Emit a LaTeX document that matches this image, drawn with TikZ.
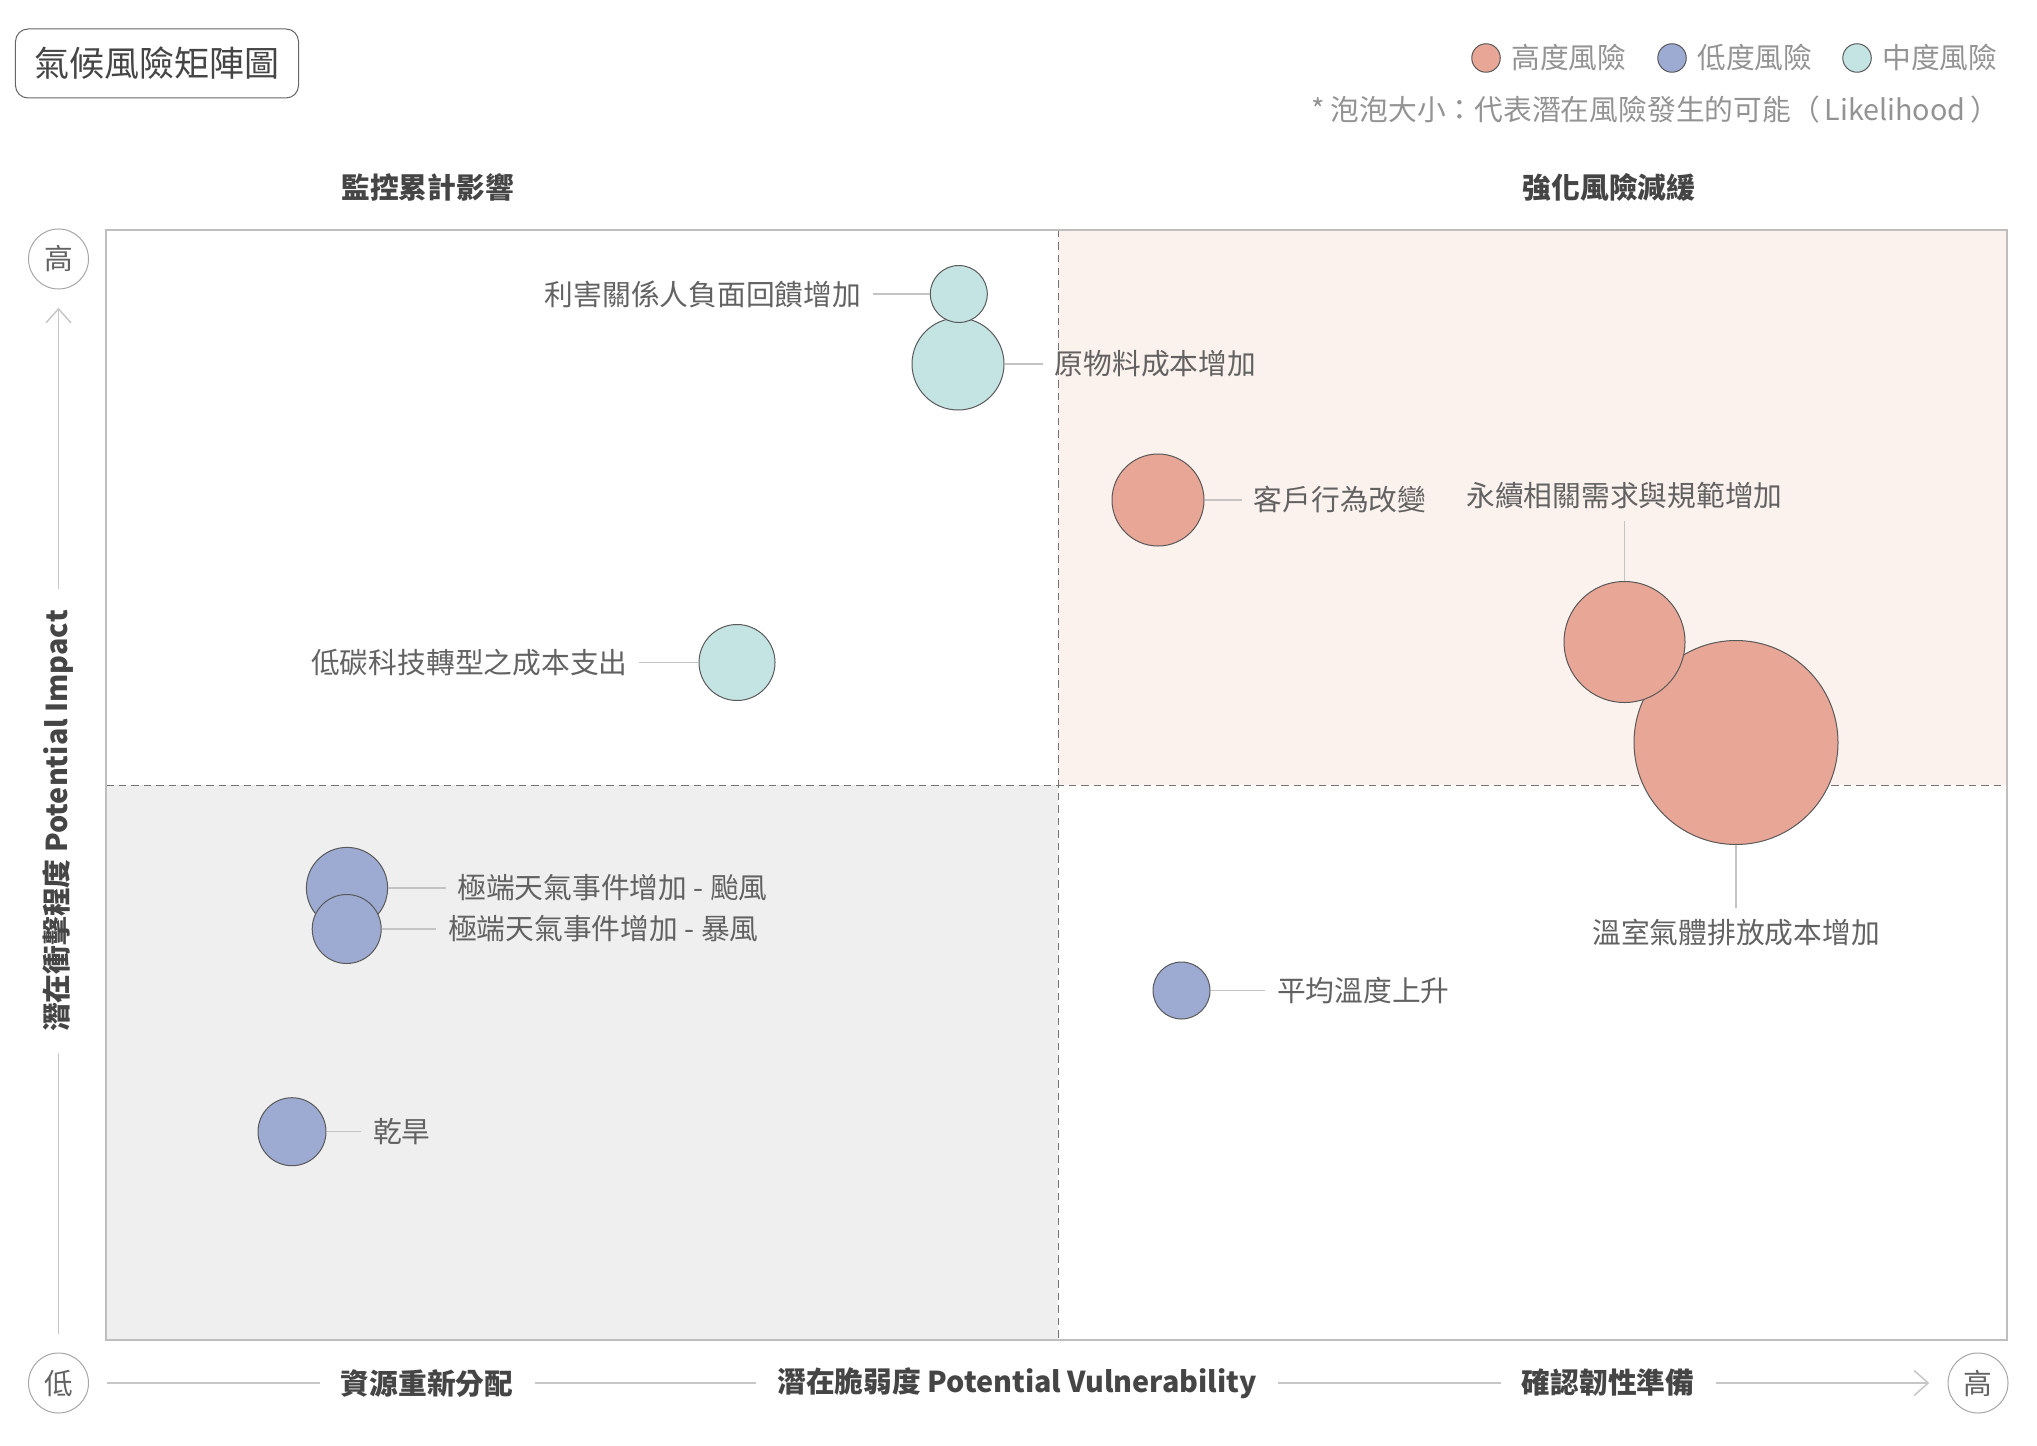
\documentclass[tikz,border=0pt]{standalone}
\usepackage{fontspec}
\setmainfont{Noto Sans CJK TC}
\usepackage{tikz}
\usetikzlibrary{arrows.meta}
\usetikzlibrary{positioning}

\definecolor{hirisk}{HTML}{E8A696}
\definecolor{lorisk}{HTML}{9DAAD2}
\definecolor{midrisk}{HTML}{C3E4E3}
\definecolor{pinkbg}{HTML}{FBF2EE}
\definecolor{graybg}{HTML}{EFEFEF}
\definecolor{labtxt}{HTML}{626262}
\definecolor{headtxt}{HTML}{454545}
\definecolor{lighttxt}{HTML}{939393}
\definecolor{linegray}{HTML}{C4C4C4}
\definecolor{framegray}{HTML}{BEBEBE}

\begin{document}
\begin{tikzpicture}[x=0.4pt,y=-0.4pt,>={Straight Barb[length=5.6pt,width=10pt]},
  every node/.style={font=\fontsize{11.5}{13}\selectfont,text=labtxt},
  bub/.style={draw=black!65,line width=0.4pt,circle,inner sep=0pt},
  hi/.style={bub,fill=hirisk},
  lo/.style={bub,fill=lorisk},
  mid/.style={bub,fill=midrisk},
  lab/.style={inner sep=4.5pt},
  conn/.style={linegray,line width=0.6pt},
  axcirc/.style={draw=black!35,line width=0.4pt,circle,minimum size=24pt,inner sep=0pt,outer sep=7.5pt},
  axlab/.style={font=\fontsize{11.5}{13}\selectfont\bfseries,text=headtxt,inner sep=1pt,outer sep=7.5pt},
  axline/.style={black!22,line width=0.6pt},
  head/.style={font=\fontsize{11.5}{13}\selectfont\bfseries,text=headtxt},
  key/.style={text=lighttxt,inner sep=1pt}]
\useasboundingbox (0,0) rectangle (2037,1445);

% quadrants
\fill[pinkbg] (1058,230) rectangle (2007,785);
\fill[graybg] (106,785) rectangle (1058,1340);
\draw[black!55,densely dashed,line width=0.4pt] (1058,230) -- (1058,1340);
\draw[black!55,densely dashed,line width=0.4pt] (106,785) -- (2007,785);
\draw[framegray,line width=0.8pt] (106,230) rectangle (2007,1340);

% title and legend
\node[draw=black!60,rounded corners=5pt,minimum width=113.2pt,minimum height=27.6pt,font=\fontsize{14}{16}\selectfont,text=headtxt] (title) at (157,63.5) {氣候風險矩陣圖};
\node[hi,minimum size=11.4pt] (k1) at (1486,58) {};
\node[key,right=3pt of k1] (k1t) {高度風險};
\node[lo,minimum size=11.4pt] (k2) at (1672,58) {};
\node[key,right=3pt of k2] (k2t) {低度風險};
\node[mid,minimum size=11.4pt] (k3) at (1857,58) {};
\node[key,right=3pt of k3] (k3t) {中度風險};
\node[key,anchor=east] (note) at (2002,110) {* 泡泡大小：代表潛在風險發生的可能（\,Likelihood\,）};

\node[head] (q1) at (427.5,187) {監控累計影響};
\node[head] (q2) at (1609,187) {強化風險減緩};

% axes
\node[axcirc] (yhi) at (58.5,259) {高};
\node[axcirc] (ylo) at (58.5,1383) {低};
\node[axcirc] (xhi) at (1978,1383) {高};
\node[axlab,rotate=90] (ylab) at (58.5,821) {潛在衝擊程度\ Potential Impact};
\node[axlab] (xl) at (427,1383) {資源重新分配};
\node[axlab] (xlab) at (1017,1383) {潛在脆弱度 Potential Vulnerability};
\node[axlab] (xr) at (1608,1383) {確認韌性準備};
\draw[axline] (ylo) -- (ylab);
\draw[axline,->] (ylab) -- (yhi);
\draw[axline] (ylo) -- (xl);
\draw[axline] (xl) -- (xlab);
\draw[axline] (xlab) -- (xr);
\draw[axline,->] (xr) -- (xhi);

% bubbles
\node[mid,minimum size=36.8pt] (b2) at (958,364) {};
\node[mid,minimum size=22.8pt] (b1) at (958.8,294) {};
\node[hi,minimum size=36.8pt] (b3) at (1158,500) {};
\node[hi,minimum size=81.6pt] (b5) at (1736,742.5) {};
\node[hi,minimum size=48.4pt] (b4) at (1624.5,642) {};
\node[mid,minimum size=30.4pt] (b6) at (737,662.5) {};
\node[lo,minimum size=32.5pt] (b7) at (347,888) {};
\node[lo,minimum size=27.6pt] (b8) at (346.7,929) {};
\node[lo,minimum size=22.8pt] (b9) at (1181.5,990.5) {};
\node[lo,minimum size=27.2pt] (b10) at (292,1131.7) {};

% labels
\node[lab,left=22.8pt of b1] (t1) {利害關係人負面回饋增加};
\node[lab,right=15.4pt of b2] (t2) {原物料成本增加};
\node[lab,right=15pt of b3] (t3) {客戶行為改變};
\node[lab,above=24pt of b4] (t4) {永續相關需求與規範增加};
\node[lab,below=25pt of b5] (t5) {溫室氣體排放成本增加};
\node[lab,left=23.7pt of b6] (t6) {低碳科技轉型之成本支出};
\node[lab,right=23pt of b7] (t7) {極端天氣事件增加 - 颱風};
\node[lab,right=21.9pt of b8] (t8) {極端天氣事件增加 - 暴風};
\node[lab,right=21.9pt of b9] (t9) {平均溫度上升};
\node[lab,right=13.9pt of b10] (t10) {乾旱};

\draw[conn] (b1) -- (t1);
\draw[conn] (b2) -- (t2);
\draw[conn] (b3) -- (t3);
\draw[conn] (b4) -- (t4);
\draw[conn] (b5) -- (t5);
\draw[conn] (b6) -- (t6);
\draw[conn] (b7) -- (t7);
\draw[conn] (b8) -- (t8);
\draw[conn] (b9) -- (t9);
\draw[conn] (b10) -- (t10);
\end{tikzpicture}
\end{document}
